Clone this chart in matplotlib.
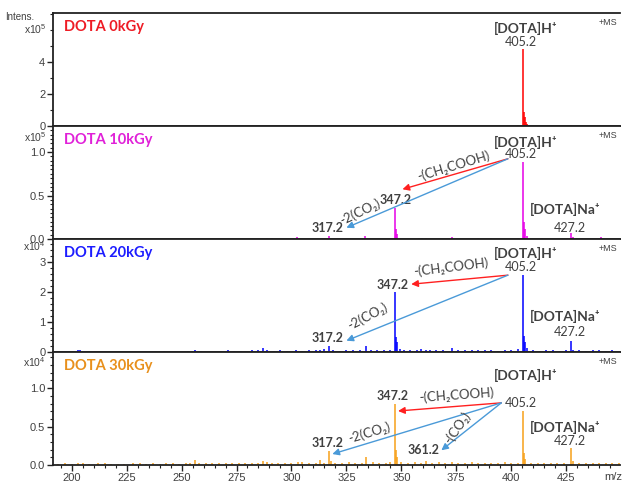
import matplotlib
matplotlib.use("Agg")
import matplotlib.pyplot as plt
from matplotlib.ticker import MultipleLocator, FixedLocator

# ---- data (m/z, intensity in units of the panel's exponent) ----
labels = ["DOTA 0kGy", "DOTA 10kGy", "DOTA 20kGy", "DOTA 30kGy"]
exponents = [5, 5, 4, 4]
line_colors = ["#ff0000", "#e600e6", "#0000ff", "#f7a11a"]
label_colors = ["#ee1c25", "#e020d8", "#1c1cff", "#e8901c"]

mz_0 = [347.2, 403.2, 405.2, 405.6, 406.2, 406.6, 407.2, 427.2]
int_0 = [0.04, 0.05, 4.8, 0.9, 0.55, 0.25, 0.1, 0.05]

mz_10 = [289.0, 291.0, 302.7, 317.2, 333.5, 347.2, 347.6, 348.2, 358.0, 359.5,
         361.0, 373.0, 385.0, 391.0, 403.0, 405.2, 405.6, 406.2, 407.2, 414.0,
         427.2, 428.2, 432.0, 441.0]
int_10 = [0.015, 0.012, 0.02, 0.03, 0.03, 0.36, 0.12, 0.06, 0.01, 0.012,
          0.015, 0.02, 0.008, 0.01, 0.015, 0.885, 0.2, 0.12, 0.04, 0.008,
          0.07, 0.02, 0.01, 0.02]

mz_20 = [203, 204, 242, 253, 256, 259, 268, 271, 274, 277, 282, 285, 287, 289,
         292, 295, 298, 302, 305, 308, 311, 313, 315, 317.2, 319, 322, 325, 328,
         331, 334, 336, 339, 342, 345, 347.2, 347.6, 348.2, 349.2, 351, 354, 357,
         359, 361.2, 363, 366, 369, 373, 376, 379, 382, 385, 388, 391, 394, 397,
         400, 403, 405.2, 405.6, 406.2, 407.2, 410, 413, 416, 419, 422, 425,
         427.2, 428.2, 431, 434, 437, 440, 443, 446]
int_20 = [0.08, 0.06, 0.05, 0.05, 0.06, 0.05, 0.05, 0.06, 0.05, 0.05, 0.06, 0.08,
          0.15, 0.08, 0.05, 0.06, 0.05, 0.06, 0.05, 0.06, 0.07, 0.08, 0.1, 0.2,
          0.06, 0.05, 0.06, 0.08, 0.07, 0.2, 0.08, 0.06, 0.07, 0.08, 2.0, 0.5,
          0.35, 0.1, 0.07, 0.06, 0.08, 0.1, 0.08, 0.07, 0.06, 0.08, 0.15, 0.06,
          0.07, 0.06, 0.08, 0.06, 0.07, 0.05, 0.08, 0.06, 0.1, 2.57, 0.55, 0.35,
          0.12, 0.06, 0.05, 0.06, 0.07, 0.05, 0.06, 0.37, 0.08, 0.06, 0.05, 0.06,
          0.07, 0.05, 0.06]

mz_30 = [194, 197, 200, 203, 205, 208, 212, 215, 218, 221, 224, 228, 231, 234,
         237, 240, 243, 246, 249, 252, 254, 256, 258, 261, 264, 267, 270, 273,
         276, 279, 282, 285, 287, 289, 291, 294, 297, 300, 303, 305, 308, 311,
         313, 315, 317.2, 318.2, 320, 323, 326, 329, 332, 334, 337, 340, 343,
         345, 347.2, 347.6, 348.2, 350, 353, 356, 359, 361.2, 364, 367, 370, 373,
         376, 379, 382, 385, 388, 391, 394, 397, 400, 403, 405.2, 405.6, 406.2,
         409, 412, 415, 418, 421, 424, 427.2, 428.2, 431, 434, 437, 440, 443, 446,
         449]
int_30 = [0.01, 0.02, 0.015, 0.02, 0.03, 0.01, 0.02, 0.02, 0.015, 0.01, 0.01,
          0.02, 0.02, 0.015, 0.02, 0.01, 0.02, 0.03, 0.015, 0.02, 0.03, 0.06,
          0.03, 0.02, 0.02, 0.025, 0.02, 0.03, 0.02, 0.025, 0.03, 0.03, 0.05,
          0.04, 0.03, 0.02, 0.03, 0.03, 0.04, 0.035, 0.03, 0.02, 0.06, 0.03, 0.18,
          0.05, 0.03, 0.03, 0.04, 0.03, 0.03, 0.1, 0.04, 0.03, 0.03, 0.04, 0.80,
          0.2, 0.1, 0.04, 0.03, 0.04, 0.03, 0.05, 0.03, 0.04, 0.03, 0.04, 0.03,
          0.03, 0.04, 0.03, 0.03, 0.03, 0.03, 0.04, 0.03, 0.03, 0.70, 0.15, 0.08,
          0.03, 0.03, 0.02, 0.03, 0.03, 0.02, 0.22, 0.05, 0.03, 0.02, 0.03, 0.02,
          0.03, 0.02, 0.02]

spectra = [(mz_0, int_0), (mz_10, int_10), (mz_20, int_20), (mz_30, int_30)]

y_limits = [7.06, 1.30, 3.77, 1.47]
y_major = [[0, 2, 4], [0.0, 0.5, 1.0], [0, 1, 2, 3], [0.0, 0.5, 1.0]]
y_minor = [1, 0.05, 0.2, 0.1]
y_fmt = ["{:.0f}", "{:.1f}", "{:.0f}", "{:.1f}"]
exp_label_y = [0.855, 0.905, 0.935, 0.915]

x_ticks = [200, 225, 250, 275, 300, 325, 350, 375, 400, 425]

plt.rcParams["font.family"] = ["Liberation Sans", "DejaVu Sans"]
plt.rcParams["mathtext.fontset"] = "custom"
plt.rcParams["mathtext.rm"] = "Liberation Sans"
plt.rcParams["mathtext.it"] = "Liberation Sans:italic"
ANN = ["Lato", "DejaVu Sans"]
GRAY = "#404040"
RED = "#ff2020"
BLUE = "#4a9ad8"

fig = plt.figure(figsize=(6.26, 4.83), dpi=100)
W, H = 626, 483
left, right = 53, 620
top0, ph = 13, 113

axes = []
for i in range(4):
    t = top0 + ph * i
    ax = fig.add_axes([left / W, 1 - (t + ph) / H, (right - left) / W, ph / H])
    axes.append(ax)
    mz, inten = spectra[i]
    ax.vlines(mz, 0, inten, color=line_colors[i], lw=1.1)
    ax.set_xlim(191.5, 449.5)
    ax.set_ylim(0, y_limits[i])
    ax.yaxis.set_major_locator(FixedLocator(y_major[i]))
    ax.yaxis.set_minor_locator(MultipleLocator(y_minor[i]))
    ax.set_yticklabels([y_fmt[i].format(v) for v in y_major[i]])
    ax.tick_params(axis="y", which="major", length=4, width=1, colors="#222222",
                   labelcolor=GRAY, labelsize=8, pad=1.5)
    ax.tick_params(axis="y", which="minor", length=2.5, width=0.8, colors="#222222")
    for s in ["top", "bottom", "left"]:
        ax.spines[s].set_linewidth(1.3)
        ax.spines[s].set_color("#222222")
    ax.spines["right"].set_visible(False)
    if i < 3:
        ax.tick_params(axis="x", which="both", bottom=False, labelbottom=False)
    else:
        ax.set_xticks(x_ticks)
        ax.xaxis.set_minor_locator(MultipleLocator(5))
        ax.tick_params(axis="x", which="major", length=4, width=1, colors="#222222",
                       labelcolor=GRAY, labelsize=8, pad=2)
        ax.tick_params(axis="x", which="minor", length=2.5, width=0.8, colors="#222222")
        ax.text(446.5, -0.06, "m/z", transform=ax.get_xaxis_transform(),
                ha="center", va="top", fontsize=8, color=GRAY)

    ax.text(0.019, 0.876, labels[i], transform=ax.transAxes, ha="left", va="center",
            fontsize=10.5, fontweight="bold", color=label_colors[i], family=ANN)
    ax.text(-0.012, exp_label_y[i], r"x10$^{%d}$" % exponents[i],
            transform=ax.transAxes, ha="right", va="center", fontsize=7.5, color=GRAY)
    ax.text(0.995, 0.915, "+MS", transform=ax.transAxes, ha="right", va="center",
            fontsize=6.5, color=GRAY)

fig.text(5 / W, 1 - 17 / H, "Intens.", ha="left", va="center", fontsize=7, color=GRAY)


def txt(ax, x, y, s, size=9, weight="normal", color=GRAY, rot=0, ha="center"):
    ax.text(x, y, s, transform=ax.get_xaxis_transform(), ha=ha, va="center",
            fontsize=size, fontweight=weight, color=color, rotation=rot,
            rotation_mode="anchor", family=ANN)


def arrow(ax, start, end, color):
    ax.annotate("", xy=end, xytext=start, xycoords=("data", "axes fraction"),
                textcoords=("data", "axes fraction"),
                arrowprops=dict(arrowstyle="-|>", color=color, lw=1.0,
                                mutation_scale=10, shrinkA=0, shrinkB=0))


H_LABEL = "[DOTA]H\u207a"
NA_LABEL = "[DOTA]Na\u207a"
LOSS_CH = "-(CH\u2082COOH)"
LOSS_2CO2 = "-2(CO\u2082)"
LOSS_CO2 = "-(CO\u2082)"

# panel 1
ax = axes[0]
txt(ax, 406.4, 0.867, H_LABEL, size=10, weight="bold")
txt(ax, 404.5, 0.743, "405.2", size=9)

# panel 2
ax = axes[1]
txt(ax, 406.4, 0.858, H_LABEL, size=10, weight="bold")
txt(ax, 404.5, 0.755, "405.2", size=9)
txt(ax, 424.5, 0.257, NA_LABEL, size=10, weight="bold")
txt(ax, 426.8, 0.097, "427.2", size=9)
txt(ax, 347.5, 0.345, "347.2", size=9, weight="bold")
txt(ax, 316.4, 0.097, "317.2", size=9, weight="bold")
arrow(ax, (398.5, 0.71), (350.5, 0.44), RED)
arrow(ax, (398.5, 0.71), (325.0, 0.10), BLUE)
txt(ax, 373.5, 0.645, LOSS_CH, size=9.5, rot=17)
txt(ax, 331.0, 0.24, LOSS_2CO2, size=9.5, rot=26)

# panel 3
ax = axes[2]
txt(ax, 406.4, 0.876, H_LABEL, size=10, weight="bold")
txt(ax, 404.5, 0.752, "405.2", size=9)
txt(ax, 424.5, 0.31, NA_LABEL, size=10, weight="bold")
txt(ax, 426.8, 0.177, "427.2", size=9)
txt(ax, 346.1, 0.593, "347.2", size=9, weight="bold")
txt(ax, 316.4, 0.124, "317.2", size=9, weight="bold")
arrow(ax, (398.5, 0.68), (354.5, 0.60), RED)
arrow(ax, (398.5, 0.68), (325.0, 0.10), BLUE)
txt(ax, 372.7, 0.75, LOSS_CH, size=9.5, rot=7)
txt(ax, 334.5, 0.32, LOSS_2CO2, size=9.5, rot=28)

# panel 4
ax = axes[3]
txt(ax, 406.4, 0.796, H_LABEL, size=10, weight="bold")
txt(ax, 404.6, 0.549, "405.2", size=9)
txt(ax, 424.5, 0.336, NA_LABEL, size=10, weight="bold")
txt(ax, 426.8, 0.21, "427.2", size=9)
txt(ax, 346.1, 0.61, "347.2", size=9, weight="bold")
txt(ax, 316.4, 0.195, "317.2", size=9, weight="bold")
txt(ax, 360.0, 0.133, "361.2", size=9, weight="bold")
arrow(ax, (395.5, 0.55), (348.5, 0.478), RED)
arrow(ax, (395.5, 0.55), (318.6, 0.097), BLUE)
arrow(ax, (395.5, 0.55), (368.2, 0.13), BLUE)
txt(ax, 375.0, 0.615, LOSS_CH, size=9.5, rot=4)
txt(ax, 335.5, 0.29, LOSS_2CO2, size=9.5, rot=17)
txt(ax, 375.5, 0.33, LOSS_CO2, size=9.5, rot=55)

fig.savefig("out.png", dpi=100)
